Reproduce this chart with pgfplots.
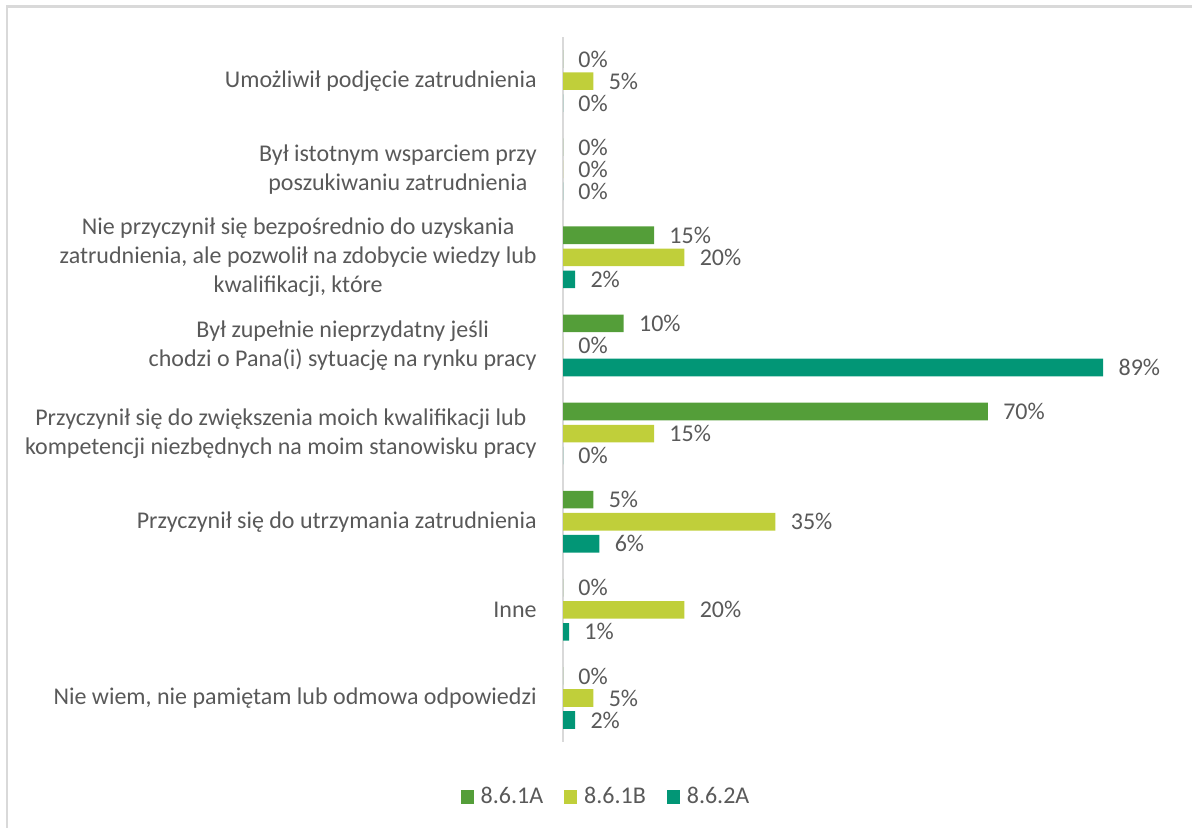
\documentclass[border=0pt]{standalone}
\usepackage{fontspec}
\setmainfont{Carlito}
\usepackage{pgfplots}
\pgfplotsset{compat=1.18}
\definecolor{cA}{HTML}{549E39}
\definecolor{cB}{HTML}{C0CF3A}
\definecolor{cC}{HTML}{029676}
\definecolor{txt}{HTML}{595959}
\definecolor{frm}{HTML}{D9D9D9}
\begin{document}
\begin{tikzpicture}
\path[use as bounding box] (0pt,0pt) rectangle (596pt,414pt);
\draw[frm, line width=1.2pt] (3.5pt,-5pt) -- (3.5pt,410.75pt) -- (600pt,410.75pt);
\begin{axis}[
  at={(281.5pt,43pt)}, anchor=south west,
  scale only axis, width=303.5pt, height=352.5pt,
  xbar, y dir=reverse,
  xmin=0, xmax=100, ymin=-0.5, ymax=7.5,
  axis x line=none, axis y line=left,
  y axis line style={draw=frm, line width=1pt, -},
  ytick={0,1,2,3,4,5,6,7}, major tick length=0pt,
  yticklabels={
    {Umożliwił podjęcie zatrudnienia},
    {Był istotnym wsparciem przy\\poszukiwaniu zatrudnienia},
    {Nie przyczynił się bezpośrednio do uzyskania\\zatrudnienia, ale pozwolił na zdobycie wiedzy lub\\kwalifikacji, które},
    {Był zupełnie nieprzydatny jeśli\\chodzi o Pana(i) sytuację na rynku pracy},
    {Przyczynił się do zwiększenia moich kwalifikacji lub\\kompetencji niezbędnych na moim stanowisku pracy},
    {Przyczynił się do utrzymania zatrudnienia},
    {Inne},
    {Nie wiem, nie pamiętam lub odmowa odpowiedzi}},
  yticklabel style={align=center, text=txt, inner sep=0pt, xshift=-13pt,
    font=\fontsize{12}{14.5}\selectfont},
  bar width=0.2,
  /pgf/number format/assume math mode=true,
  nodes near coords={\pgfmathprintnumber{\pgfplotspointmeta}\%},
  point meta=x,
  nodes near coords style={anchor=west, text=txt, inner sep=0pt, xshift=7.5pt,
    font=\fontsize{12}{14.5}\selectfont},
  legend columns=3,
  legend style={at={(0.0725,-0.078)}, anchor=center, draw=none, fill=none,
    font=\fontsize{12}{14.5}\selectfont, text=txt,
    /tikz/every odd column/.append style={column sep=1.5pt},
    /tikz/every even column/.append style={column sep=8.5pt}},
  legend image code/.code={\fill[#1] (0pt,-3.25pt) rectangle (6.5pt,3.25pt);},
]
\addplot[draw=none, fill=cA, bar shift=-0.25] coordinates {
  (0,0) (0,1) (15,2) (10,3) (70,4) (5,5) (0,6) (0,7)};
\addplot[draw=none, fill=cB, bar shift=0] coordinates {
  (5,0) (0,1) (20,2) (0,3) (15,4) (35,5) (20,6) (5,7)};
\addplot[draw=none, fill=cC, bar shift=0.25] coordinates {
  (0,0) (0,1) (2,2) (89,3) (0,4) (6,5) (1,6) (2,7)};
\legend{8.6.1A, 8.6.1B, 8.6.2A}
\end{axis}
\end{tikzpicture}
\end{document}
